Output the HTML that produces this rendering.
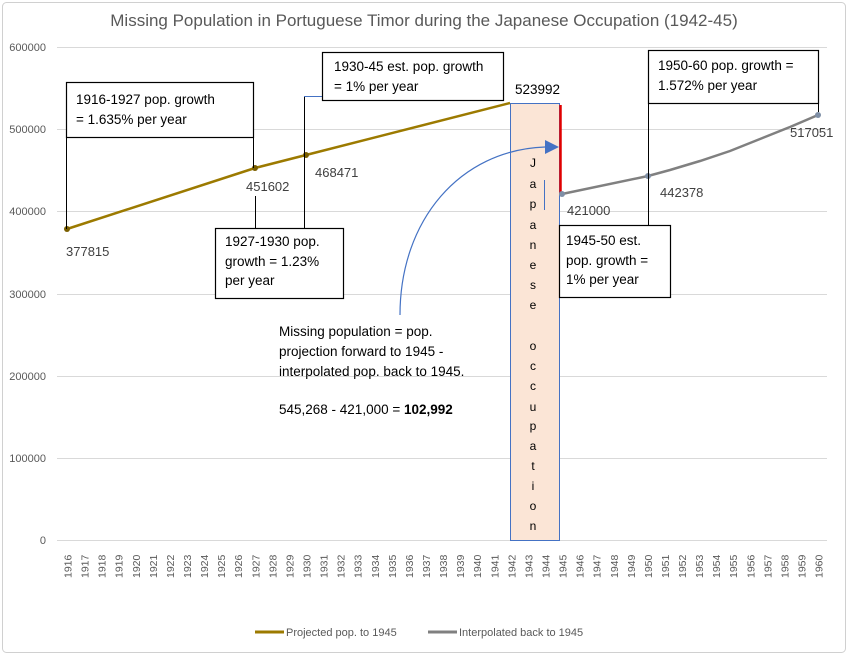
<!DOCTYPE html>
<html><head><meta charset="utf-8"><style>
html,body{margin:0;padding:0;background:#fff;}
svg{display:block;font-family:"Liberation Sans",Arial,sans-serif;}
</style></head><body>
<svg width="848" height="656" viewBox="0 0 848 656" xmlns="http://www.w3.org/2000/svg">
<rect x="2.5" y="2.5" width="843" height="650" rx="4" fill="#fff" stroke="#d0d0d0"/>
<text x="424" y="26" text-anchor="middle" font-size="17" fill="#595959">Missing Population in Portuguese Timor during the Japanese Occupation (1942-45)</text>
<g stroke="#d9d9d9" stroke-width="1">
<line x1="57" y1="47.5" x2="827" y2="47.5"/>
<line x1="57" y1="129.5" x2="827" y2="129.5"/>
<line x1="57" y1="211.5" x2="827" y2="211.5"/>
<line x1="57" y1="294.5" x2="827" y2="294.5"/>
<line x1="57" y1="376.5" x2="827" y2="376.5"/>
<line x1="57" y1="458.5" x2="827" y2="458.5"/>
<line x1="57" y1="540.5" x2="827" y2="540.5"/>
</g>
<g font-size="11" fill="#595959" text-anchor="end">
<text x="46" y="51">600000</text><text x="46" y="133">500000</text><text x="46" y="215">400000</text>
<text x="46" y="298">300000</text><text x="46" y="380">200000</text><text x="46" y="462">100000</text><text x="46" y="544">0</text>
</g>
<g font-size="10.5" fill="#595959" id="xl"></g>
<!-- occupation box -->
<rect x="510.5" y="103.5" width="49" height="437" fill="#fbe5d6" stroke="#4472c4" stroke-width="1"/>
<line x1="560.5" y1="105" x2="560.5" y2="194" stroke="#e00000" stroke-width="2.5"/>
<line x1="544.5" y1="180" x2="544.5" y2="210" stroke="#4472c4" stroke-width="1"/>
<g font-size="12" fill="#000" text-anchor="middle">
<text x="533" y="167">J</text><text x="533" y="188">a</text><text x="533" y="208">p</text><text x="533" y="229">a</text>
<text x="533" y="249">n</text><text x="533" y="269">e</text><text x="533" y="289">s</text><text x="533" y="309">e</text>
<text x="533" y="350">o</text><text x="533" y="370">c</text><text x="533" y="390">c</text><text x="533" y="411">u</text>
<text x="533" y="430">p</text><text x="533" y="450">a</text><text x="533" y="470">t</text><text x="533" y="490">i</text>
<text x="533" y="510">o</text><text x="533" y="530">n</text>
</g>
<!-- series -->
<polyline points="67,229 255,168 306,155 510,103" fill="none" stroke="#9c7a00" stroke-width="2.5"/>
<g fill="#7a5f00"><circle cx="67" cy="229" r="3"/><circle cx="255" cy="168" r="3"/><circle cx="306" cy="155" r="3"/></g>
<polyline points="562,194 648,176 670,170 700,161 730,151 760,139 790,127 818,115" fill="none" stroke="#808080" stroke-width="2.5"/>
<g fill="#7f8fa6"><circle cx="562" cy="194" r="3"/><circle cx="648" cy="176" r="3"/><circle cx="818" cy="115" r="3"/></g>
<!-- leader lines -->
<g stroke="#000" stroke-width="1" fill="none">
<line x1="66.5" y1="137" x2="66.5" y2="229"/>
<line x1="253.5" y1="137" x2="253.5" y2="168"/>
<line x1="255.5" y1="196" x2="255.5" y2="228"/>
<line x1="304.5" y1="96" x2="304.5" y2="228"/>
<line x1="648.5" y1="103" x2="648.5" y2="225"/>
<line x1="818.5" y1="103" x2="818.5" y2="112"/>
</g>
<line x1="304" y1="96.5" x2="322" y2="96.5" stroke="#4472c4"/>
<!-- boxes -->
<g fill="#fff" stroke="#000" stroke-width="1.2">
<rect x="66.5" y="82.5" width="187" height="55"/>
<rect x="322.5" y="52.5" width="181" height="48"/>
<rect x="215.5" y="228.5" width="128" height="70"/>
<rect x="559.5" y="225.5" width="111" height="72"/>
<rect x="648.5" y="50.5" width="170" height="53"/>
</g>
<g font-size="13.5" fill="#000">
<text x="76" y="104">1916-1927 pop. growth</text><text x="76" y="124">= 1.635% per year</text>
<text x="334" y="71">1930-45 est. pop. growth</text><text x="334" y="91">= 1% per year</text>
<text x="225" y="246">1927-1930 pop.</text><text x="225" y="266">growth = 1.23%</text><text x="225" y="285">per year</text>
<text x="566" y="245">1945-50 est.</text><text x="566" y="265">pop. growth =</text><text x="566" y="284">1% per year</text>
<text x="658" y="70">1950-60 pop. growth =</text><text x="658" y="90">1.572% per year</text>
<text x="279" y="336">Missing population =  pop.</text>
<text x="279" y="356">projection forward to 1945 -</text>
<text x="279" y="376">interpolated pop. back to 1945.</text>
<text x="279" y="414">545,268 - 421,000 = <tspan font-weight="bold">102,992</tspan></text>
<text x="515" y="94">523992</text>
</g>
<g font-size="13" fill="#404040">
<text x="66" y="256">377815</text><text x="246" y="191">451602</text><text x="315" y="177">468471</text>
<text x="567" y="215">421000</text><text x="660" y="197">442378</text><text x="790" y="137">517051</text>
</g>
<path d="M400,315 C400,220 460,150 545,147" fill="none" stroke="#4472c4" stroke-width="1.2"/>
<polygon points="545,140 559,147 545,154" fill="#4472c4"/>
<!-- legend -->
<line x1="255" y1="632" x2="284" y2="632" stroke="#9c7a00" stroke-width="3"/>
<text x="286" y="636" font-size="11" fill="#595959">Projected pop. to 1945</text>
<line x1="428" y1="632" x2="457" y2="632" stroke="#808080" stroke-width="3"/>
<text x="459" y="636" font-size="11" fill="#595959">Interpolated back to 1945</text>
<g font-size="10.5" fill="#595959">
<script>
</script>
</g>
<g font-size="10.5" fill="#595959">
<text transform="translate(71.5,578) rotate(-90)">1916</text>
<text transform="translate(88.6,578) rotate(-90)">1917</text>
<text transform="translate(105.7,578) rotate(-90)">1918</text>
<text transform="translate(122.7,578) rotate(-90)">1919</text>
<text transform="translate(139.8,578) rotate(-90)">1920</text>
<text transform="translate(156.9,578) rotate(-90)">1921</text>
<text transform="translate(174.0,578) rotate(-90)">1922</text>
<text transform="translate(191.0,578) rotate(-90)">1923</text>
<text transform="translate(208.1,578) rotate(-90)">1924</text>
<text transform="translate(225.2,578) rotate(-90)">1925</text>
<text transform="translate(242.2,578) rotate(-90)">1926</text>
<text transform="translate(259.3,578) rotate(-90)">1927</text>
<text transform="translate(276.4,578) rotate(-90)">1928</text>
<text transform="translate(293.4,578) rotate(-90)">1929</text>
<text transform="translate(310.5,578) rotate(-90)">1930</text>
<text transform="translate(327.6,578) rotate(-90)">1931</text>
<text transform="translate(344.6,578) rotate(-90)">1932</text>
<text transform="translate(361.7,578) rotate(-90)">1933</text>
<text transform="translate(378.8,578) rotate(-90)">1934</text>
<text transform="translate(395.9,578) rotate(-90)">1935</text>
<text transform="translate(412.9,578) rotate(-90)">1936</text>
<text transform="translate(430.0,578) rotate(-90)">1937</text>
<text transform="translate(447.1,578) rotate(-90)">1938</text>
<text transform="translate(464.1,578) rotate(-90)">1939</text>
<text transform="translate(481.2,578) rotate(-90)">1940</text>
<text transform="translate(498.3,578) rotate(-90)">1941</text>
<text transform="translate(515.3,578) rotate(-90)">1942</text>
<text transform="translate(532.4,578) rotate(-90)">1943</text>
<text transform="translate(549.5,578) rotate(-90)">1944</text>
<text transform="translate(566.5,578) rotate(-90)">1945</text>
<text transform="translate(583.6,578) rotate(-90)">1946</text>
<text transform="translate(600.7,578) rotate(-90)">1947</text>
<text transform="translate(617.8,578) rotate(-90)">1948</text>
<text transform="translate(634.8,578) rotate(-90)">1949</text>
<text transform="translate(651.9,578) rotate(-90)">1950</text>
<text transform="translate(669.0,578) rotate(-90)">1951</text>
<text transform="translate(686.0,578) rotate(-90)">1952</text>
<text transform="translate(703.1,578) rotate(-90)">1953</text>
<text transform="translate(720.2,578) rotate(-90)">1954</text>
<text transform="translate(737.2,578) rotate(-90)">1955</text>
<text transform="translate(754.3,578) rotate(-90)">1956</text>
<text transform="translate(771.4,578) rotate(-90)">1957</text>
<text transform="translate(788.4,578) rotate(-90)">1958</text>
<text transform="translate(805.5,578) rotate(-90)">1959</text>
<text transform="translate(822.6,578) rotate(-90)">1960</text>
</g>
</svg>
</body></html>
